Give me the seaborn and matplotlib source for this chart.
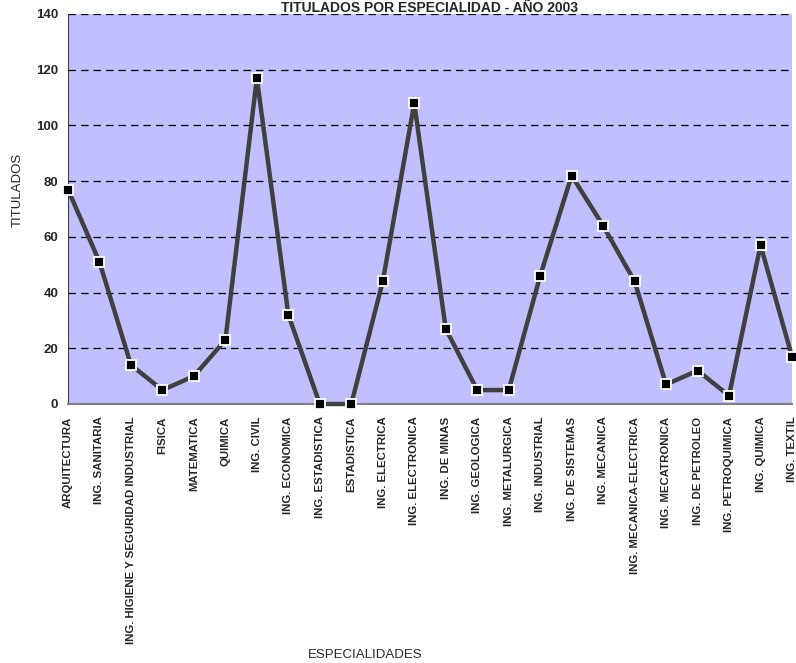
import matplotlib
matplotlib.use("Agg")
import matplotlib.pyplot as plt
import seaborn as sns
import pandas as pd
import numpy as np

categories = ["ARQUITECTURA", "ING. SANITARIA", "ING. HIGIENE Y SEGURIDAD INDUSTRIAL", "FISICA",
              "MATEMATICA", "QUIMICA", "ING. CIVIL", "ING. ECONOMICA", "ING. ESTADISTICA",
              "ESTADISTICA", "ING. ELECTRICA", "ING. ELECTRONICA", "ING. DE MINAS",
              "ING. GEOLOGICA", "ING. METALURGICA", "ING. INDUSTRIAL", "ING. DE SISTEMAS",
              "ING. MECANICA", "ING. MECANICA-ELECTRICA", "ING. MECATRONICA",
              "ING. DE PETROLEO", "ING. PETROQUIMICA", "ING. QUIMICA", "ING. TEXTIL"]
titulados = [77, 51, 14, 5, 10, 23, 117, 32, 0, 0, 44, 108, 27, 5, 5, 46, 82, 64, 44, 7, 12, 3, 57, 17]
yticks = [0, 20, 40, 60, 80, 100, 120, 140]

df = pd.DataFrame({"pos": np.arange(len(categories)), "val": titulados})

sns.set_style("white")
plt.rcParams['font.family'] = ['Liberation Sans', 'DejaVu Sans']

fig = plt.figure(figsize=(7.96, 6.63), dpi=100)
ax = fig.add_axes([68/796, 1 - 404/663, (792 - 68)/796, (404 - 14)/663])
ax.set_facecolor('#C0C0FF')

for y in yticks[1:]:
    ax.axhline(y, color='black', lw=0.9, ls=(0, (6, 4)), zorder=1)

sns.lineplot(data=df, x="pos", y="val", ax=ax, color='#404040', lw=3.2, sort=False,
             marker='s', markersize=7, markerfacecolor='black', markeredgecolor='white',
             markeredgewidth=1.3, zorder=3, clip_on=False)

ax.set_xlim(0, len(categories) - 1)
ax.set_ylim(0, 140)
ax.set_xticks(np.arange(len(categories)))
ax.set_xticklabels(categories, rotation=90, fontsize=8.2, fontweight='bold')
ax.set_yticks(yticks)
ax.set_yticklabels([str(v) for v in yticks], fontsize=9.5, fontweight='bold')
ax.tick_params(axis='both', length=4, width=1, color='#404040', direction='out', pad=3)
ax.tick_params(axis='x', pad=5)
ax.set_xlabel("")
ax.set_ylabel("")
for s in ['top', 'right']:
    ax.spines[s].set_visible(False)
ax.spines['left'].set_color('#404040')
ax.spines['bottom'].set_color('#808080')
ax.spines['bottom'].set_linewidth(1.5)

fig.text(430/796, 1 - 0.5/663, "TITULADOS POR ESPECIALIDAD - AÑO 2003", ha='center', va='top',
         fontsize=10, fontweight='bold')
fig.text(18/796, 1 - 190/663, "TITULADOS", rotation=90, ha='center', va='center', fontsize=9.5)
fig.text(365/796, 1 - 655/663, "ESPECIALIDADES", ha='center', va='center', fontsize=9.5)

fig.savefig("out.png", dpi=100)
